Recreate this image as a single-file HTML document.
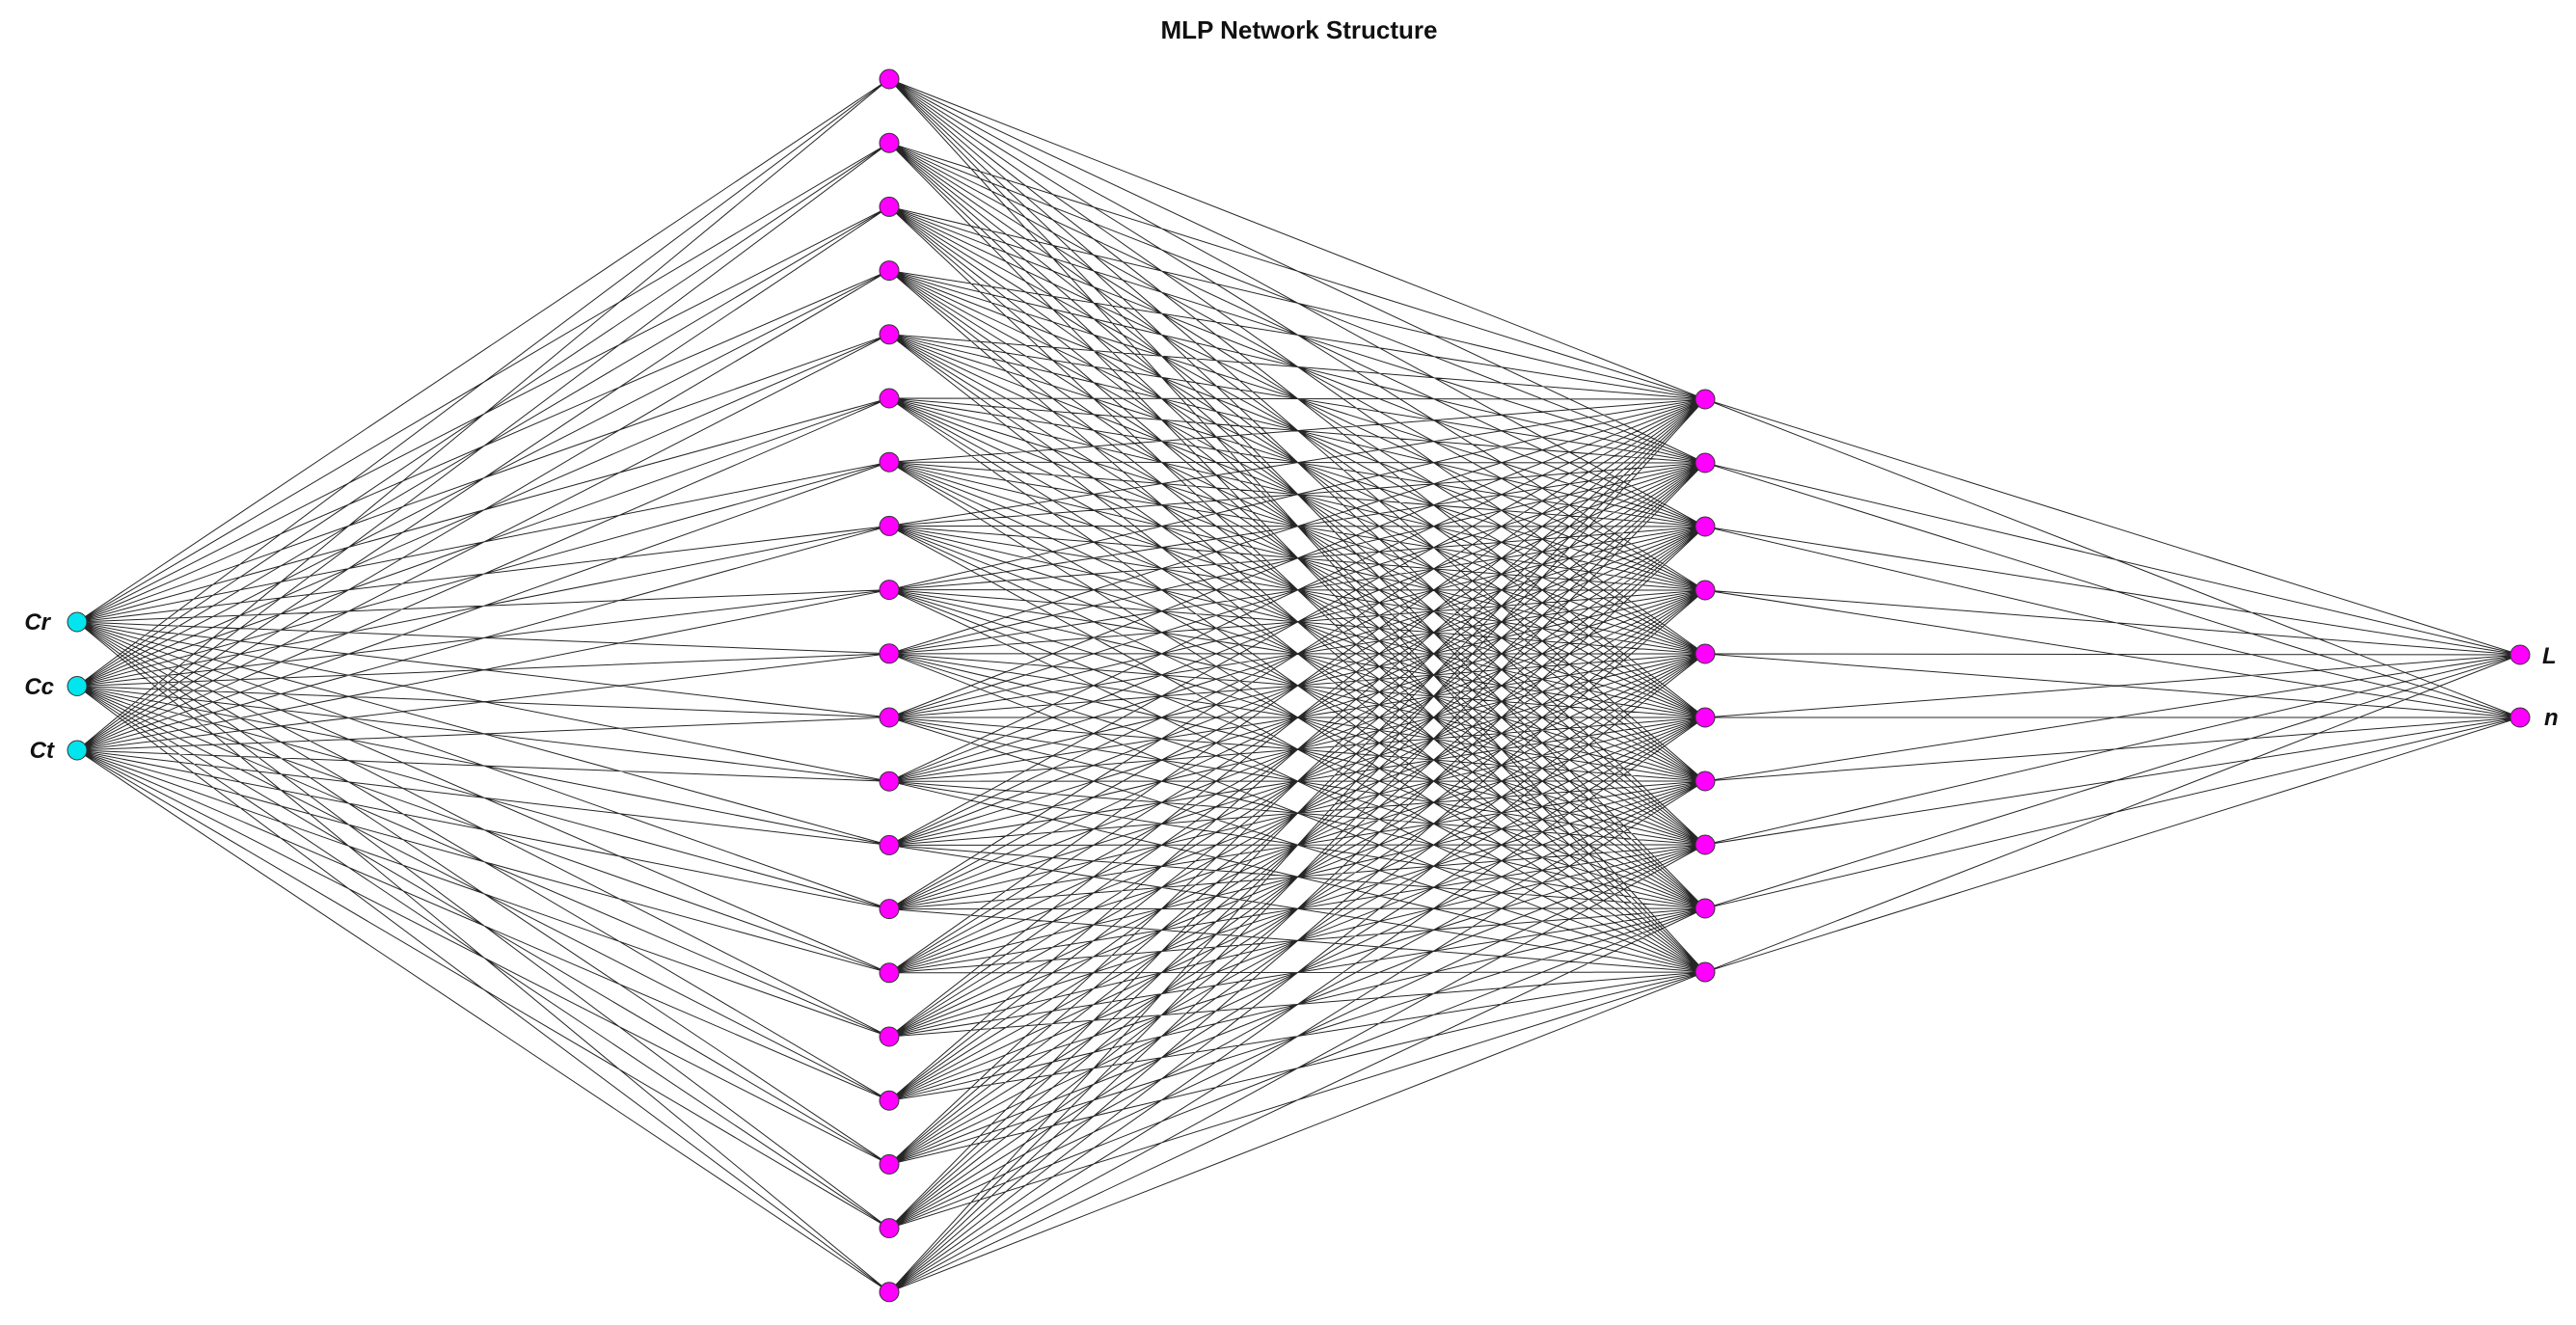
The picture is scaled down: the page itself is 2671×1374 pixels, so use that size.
<!DOCTYPE html>
<html><head><meta charset="utf-8"><style>
html,body{margin:0;padding:0;background:#fff;}
svg{display:block;}
text{font-family:"Liberation Sans",sans-serif;}
</style></head><body>
<svg id="s" width="2671" height="1374" viewBox="0 0 2671 1374" xmlns="http://www.w3.org/2000/svg">
<rect width="2671" height="1374" fill="#fff"/>
<text x="1347" y="40" text-anchor="middle" font-size="26" font-weight="bold" fill="#111">MLP Network Structure</text>
<g id="lines" stroke="#000" stroke-width="1" stroke-opacity="0.85"></g>
<g id="nodes"></g>
<text x="52" y="653" text-anchor="end" font-size="24" font-style="italic" font-weight="bold" fill="#111">Cr</text>
<text x="56" y="720" text-anchor="end" font-size="24" font-style="italic" font-weight="bold" fill="#111">Cc</text>
<text x="56" y="786" text-anchor="end" font-size="24" font-style="italic" font-weight="bold" fill="#111">Ct</text>
<text x="2636" y="688" font-size="24" font-style="italic" font-weight="bold" fill="#111">L</text>
<text x="2638" y="752" font-size="24" font-style="italic" font-weight="bold" fill="#111">n</text>
</svg>
<script>
var ns="http://www.w3.org/2000/svg";
function layer(x,y0,n,d){var a=[];for(var i=0;i<n;i++)a.push([x,y0+i*d]);return a;}
var L=[layer(80,645,3,66.5),layer(922,82,20,66.2),layer(1768,414,10,66),layer(2613,679,2,65)];
var g=document.getElementById('lines'),p="";
for(var k=0;k<3;k++)for(var i=0;i<L[k].length;i++)for(var j=0;j<L[k+1].length;j++){
p+="M"+L[k][i][0]+" "+L[k][i][1]+"L"+L[k+1][j][0]+" "+L[k+1][j][1];}
var path=document.createElementNS(ns,'path');path.setAttribute('d',p);path.setAttribute('fill','none');g.appendChild(path);
var nd=document.getElementById('nodes');
L.forEach(function(l,k){l.forEach(function(q){var c=document.createElementNS(ns,'circle');
c.setAttribute('cx',q[0]);c.setAttribute('cy',q[1]);c.setAttribute('r',10);
c.setAttribute('fill',k==0?'#00e5ee':'#ff00ff');c.setAttribute('stroke','#333');c.setAttribute('stroke-width','1');nd.appendChild(c);});});
</script>
</body></html>
